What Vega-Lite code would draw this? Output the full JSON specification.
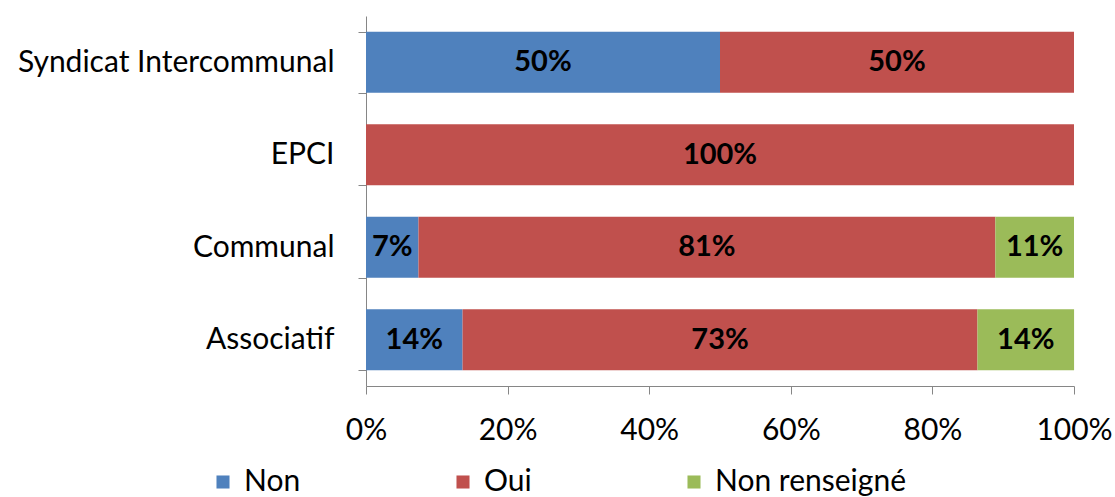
{
  "$schema": "https://vega.github.io/schema/vega-lite/v6.json",
  "width": 708,
  "height": 370,
  "autosize": {"type": "none"},
  "padding": {"left": 366, "top": 16, "right": 41, "bottom": 111},
  "background": "white",
  "config": {"view": {"stroke": null}, "font": "Lato"},
  "data": {
    "values": [
      {"cat": "Syndicat Intercommunal", "rep": "Non", "ord": 0, "value": 0.5},
      {"cat": "Syndicat Intercommunal", "rep": "Oui", "ord": 1, "value": 0.5},
      {"cat": "EPCI", "rep": "Oui", "ord": 1, "value": 1.0},
      {"cat": "Communal", "rep": "Non", "ord": 0, "value": 0.0741},
      {"cat": "Communal", "rep": "Oui", "ord": 1, "value": 0.8148},
      {"cat": "Communal", "rep": "Non renseigné", "ord": 2, "value": 0.1111},
      {"cat": "Associatif", "rep": "Non", "ord": 0, "value": 0.1364},
      {"cat": "Associatif", "rep": "Oui", "ord": 1, "value": 0.7273},
      {"cat": "Associatif", "rep": "Non renseigné", "ord": 2, "value": 0.1364}
    ]
  },
  "transform": [
    {"stack": "value", "groupby": ["cat"], "sort": [{"field": "ord", "order": "ascending"}], "as": ["x0", "x1"]},
    {"calculate": "(datum.x0 + datum.x1) / 2", "as": "xmid"}
  ],
  "encoding": {
    "y": {
      "field": "cat",
      "type": "nominal",
      "sort": ["Syndicat Intercommunal", "EPCI", "Communal", "Associatif"],
      "scale": {"paddingInner": 0.34, "paddingOuter": 0.17},
      "axis": {
        "title": null,
        "tickBand": "extent",
        "tickSize": 8,
        "tickColor": "#868686",
        "domainColor": "#868686",
        "labelFont": "Lato",
        "labelFontSize": 30,
        "labelColor": "#000000",
        "labelPadding": 24,
        "labelLimit": 400
      }
    }
  },
  "layer": [
    {
      "mark": {"type": "bar"},
      "encoding": {
        "x": {
          "field": "x0",
          "type": "quantitative",
          "scale": {"domain": [0, 1], "nice": false},
          "axis": {
            "title": null,
            "format": ".0%",
            "values": [0, 0.2, 0.4, 0.6, 0.8, 1],
            "grid": false,
            "tickSize": 8,
            "tickColor": "#868686",
            "domainColor": "#868686",
            "labelFont": "Lato",
            "labelFontSize": 30,
            "labelColor": "#000000",
            "labelPadding": 21,
            "labelFlush": false
          }
        },
        "x2": {"field": "x1"},
        "color": {
          "field": "rep",
          "type": "nominal",
          "scale": {
            "domain": ["Non", "Oui", "Non renseigné"],
            "range": ["#4F81BD", "#C0504D", "#9BBB59"]
          },
          "legend": {
            "title": null,
            "orient": "none",
            "direction": "horizontal",
            "legendX": -158,
            "legendY": 451,
            "symbolType": "square",
            "symbolSize": 170,
            "symbolStrokeWidth": 0,
            "labelFont": "Lato",
            "labelFontSize": 30,
            "labelColor": "#000000",
            "labelOffset": 6,
            "labelLimit": 400,
            "columnPadding": 147
          }
        }
      }
    },
    {
      "mark": {"type": "text", "font": "Lato", "fontWeight": "bold", "fontSize": 29, "color": "#000000"},
      "encoding": {
        "x": {"field": "xmid", "type": "quantitative"},
        "text": {"field": "value", "type": "quantitative", "format": ".0%"}
      }
    }
  ]
}
